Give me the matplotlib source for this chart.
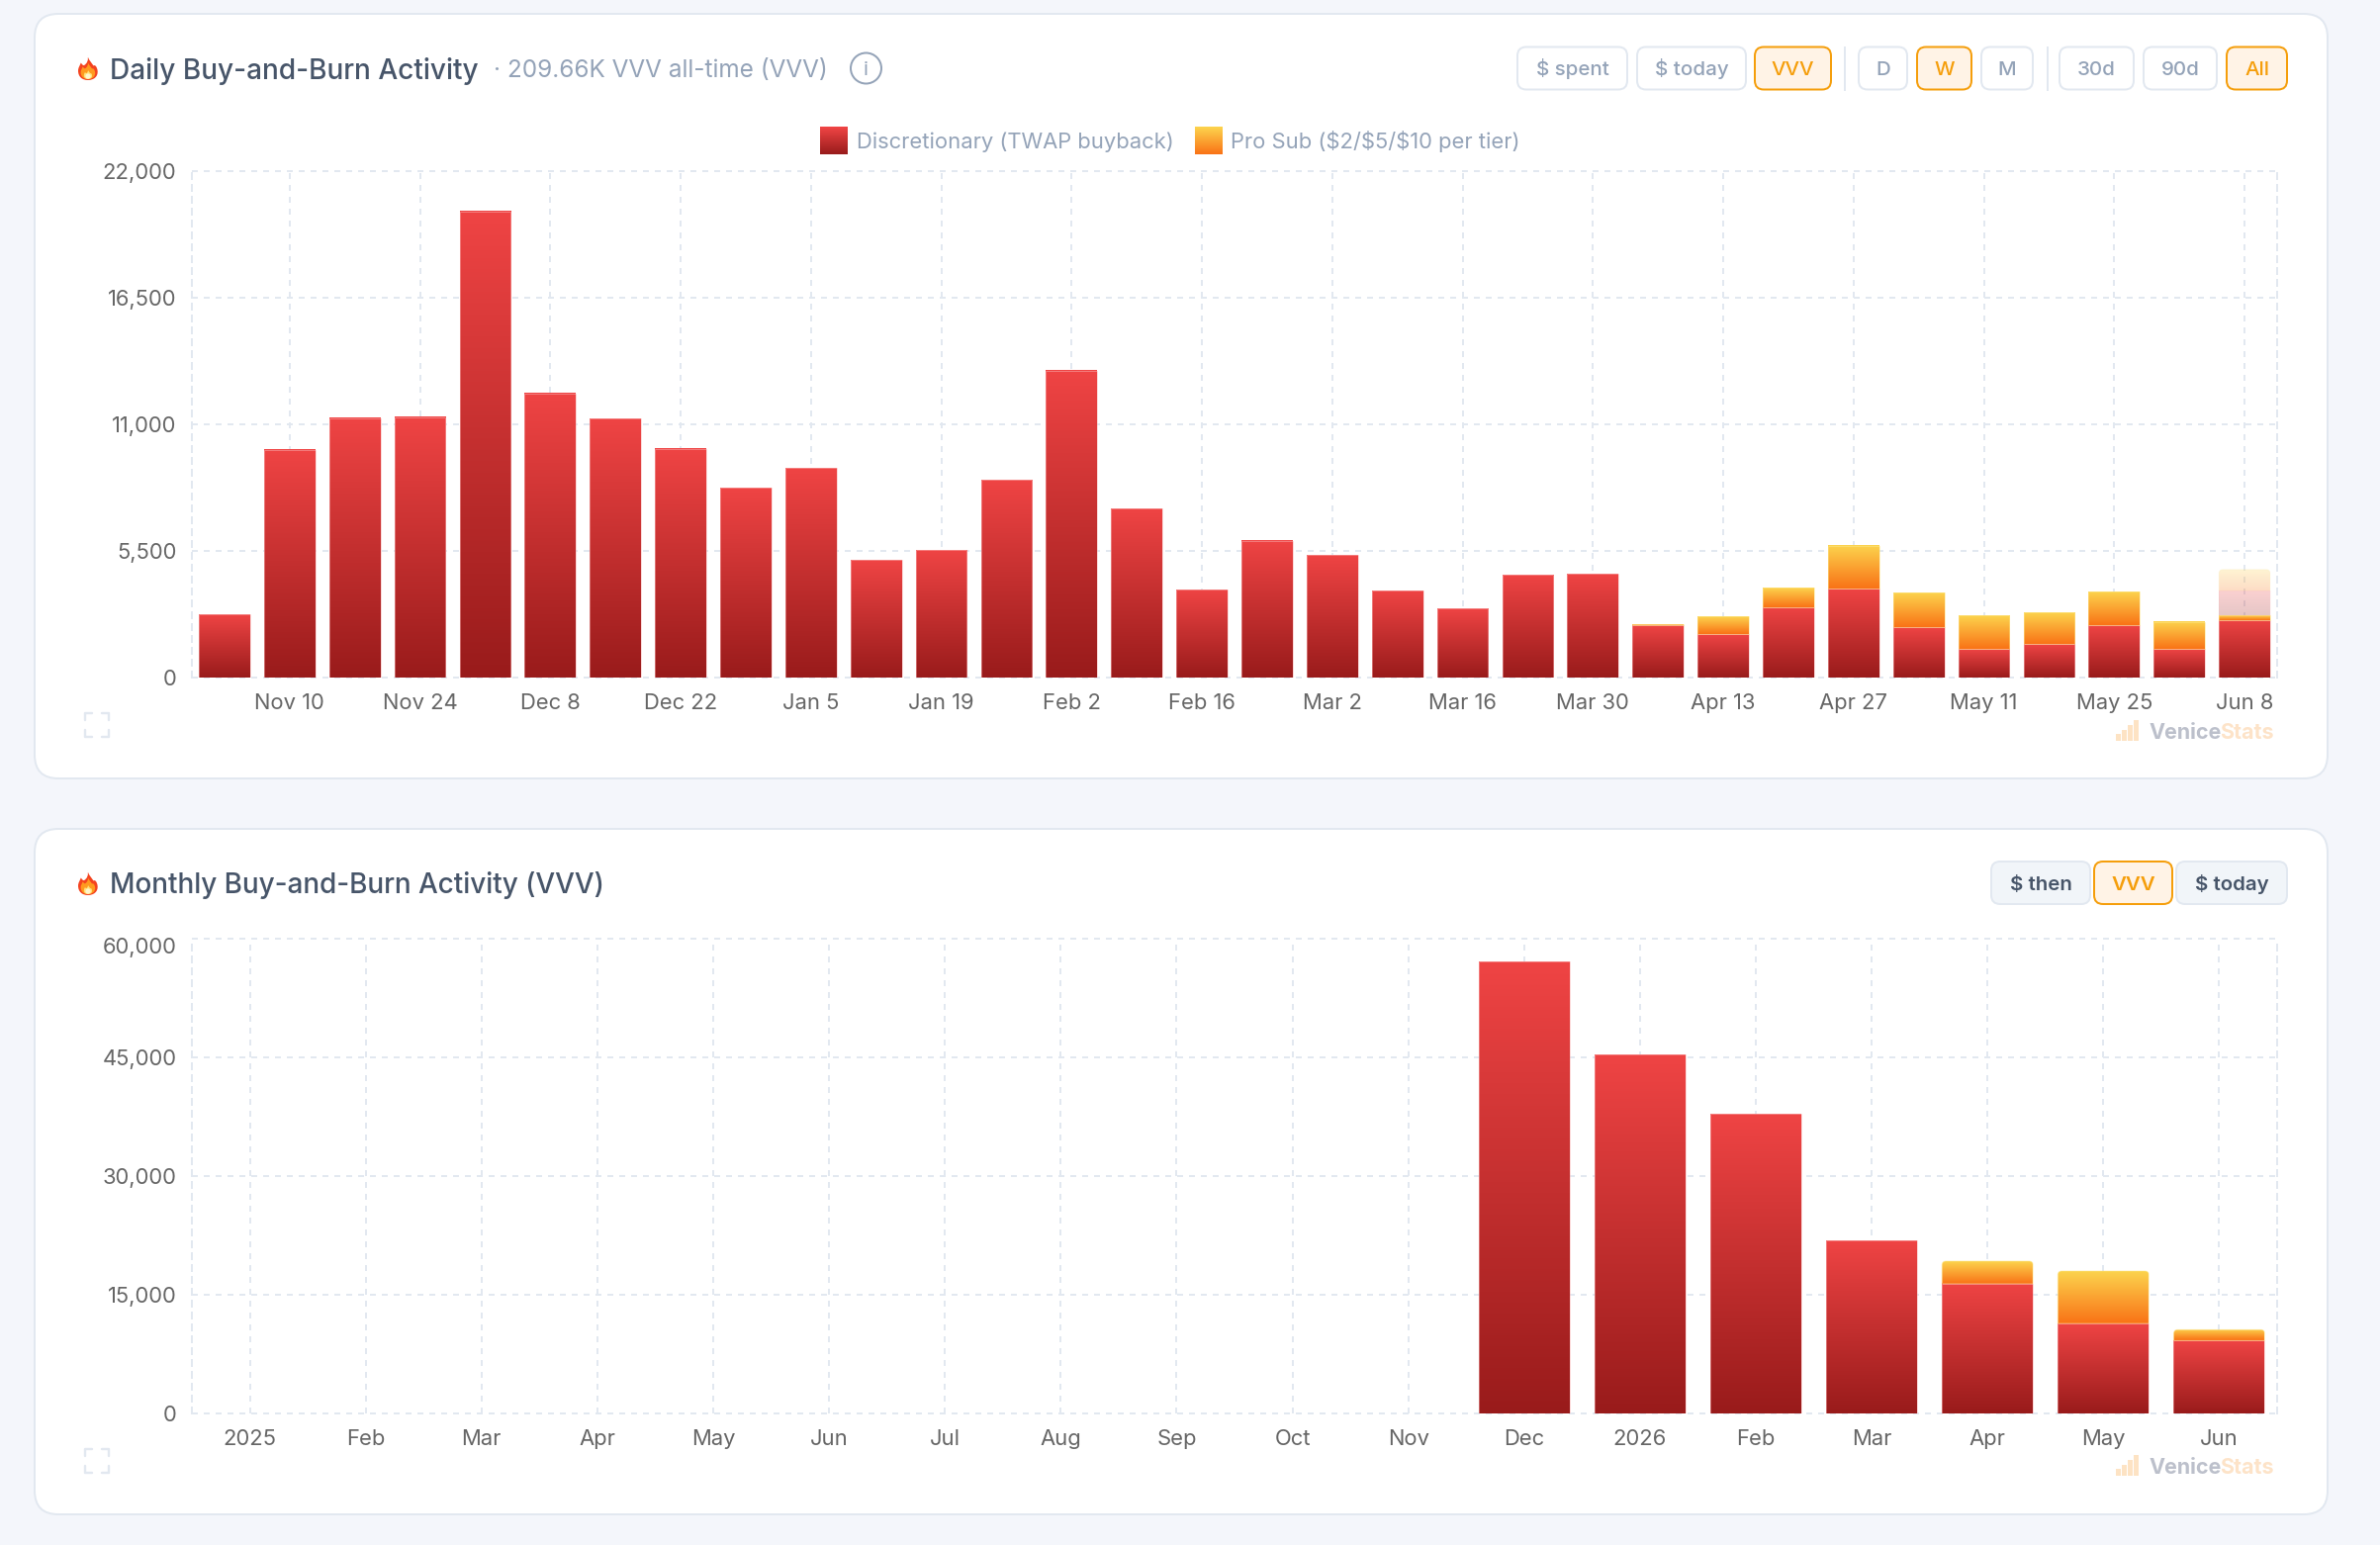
import numpy as np
import matplotlib
matplotlib.use("Agg")
import matplotlib.pyplot as plt
from matplotlib.colors import to_rgb
from matplotlib.patches import FancyBboxPatch, Rectangle, Circle, PathPatch
from matplotlib.path import Path
from matplotlib.legend_handler import HandlerBase
from matplotlib.transforms import ScaledTranslation

# ---- weekly series (VVV) ----
week_labels = ["Nov 3", "Nov 10", "Nov 17", "Nov 24", "Dec 1", "Dec 8", "Dec 15", "Dec 22",
               "Dec 29", "Jan 5", "Jan 12", "Jan 19", "Jan 26", "Feb 2", "Feb 9", "Feb 16",
               "Feb 23", "Mar 2", "Mar 9", "Mar 16", "Mar 23", "Mar 30", "Apr 6", "Apr 13",
               "Apr 20", "Apr 27", "May 4", "May 11", "May 18", "May 25", "Jun 1", "Jun 8"]
week_disc = [2750, 9890, 11265, 11305, 20240, 12350, 11250, 9945, 8230, 9090, 5110, 5525,
             8590, 13340, 7345, 3820, 5940, 5310, 3780, 3005, 4465, 4495, 2276, 1875,
             3062, 3864, 2175, 1230, 1445, 2261, 1230, 2504]
week_pro = [0, 0, 0, 0, 0, 0, 0, 0, 0, 0, 0, 0, 0, 0, 0, 0, 0, 0, 0, 0, 0, 0,
            42, 773, 858, 1860, 1503, 1460, 1375, 1459, 1188, 201]
# the running week also shows its projected remainder
week_proj_disc = [0] * 31 + [1073]
week_proj_pro = [0] * 31 + [916]
week_yticks = [0, 5500, 11000, 16500, 22000]

# ---- monthly series (VVV) ----
month_labels = ["2025", "Feb", "Mar", "Apr", "May", "Jun", "Jul", "Aug", "Sep", "Oct", "Nov",
                "Dec", "2026", "Feb", "Mar", "Apr", "May", "Jun"]
month_disc = [0, 0, 0, 0, 0, 0, 0, 0, 0, 0, 0, 57090, 45340, 37840, 21835, 16400, 11375, 9200]
month_pro = [0, 0, 0, 0, 0, 0, 0, 0, 0, 0, 0, 0, 0, 0, 0, 2850, 6625, 1380]
month_yticks = [0, 15000, 30000, 45000, 60000]

W, H = 2406, 1562
PX = 72 / 100  # points per pixel at dpi 100
FONT = "Inter"
RED = ("#ef4444", "#991b1b")
ORANGE = ("#fcd34d", "#f97316")
BORDER = "#e2e8f0"
MUTED = "#94a3b8"
SLATE = "#475569"
TICK = "#666666"
AMBER = "#f59e0b"

plt.rcParams["font.family"] = [FONT, "DejaVu Sans"]
fig = plt.figure(figsize=(W / 100, H / 100), dpi=100, facecolor="#f4f6fb")

# pixel-addressed layer for cards, buttons and headings
bg = fig.add_axes([0, 0, 1, 1], zorder=0)
bg.set_xlim(0, W)
bg.set_ylim(H, 0)
bg.axis("off")


def gradient(top, bottom, n=128):
    t = np.linspace(0, 1, n)[:, None]
    a, b = np.array(to_rgb(top)), np.array(to_rgb(bottom))
    return (a * (1 - t) + b * t)[:, None, :]


def rounded_top_path(l, r, b, t, rx, ry):
    return Path([(l, b), (l, t - ry), (l, t), (l + rx, t), (r - rx, t), (r, t), (r, t - ry),
                 (r, b), (l, b)],
                [Path.MOVETO, Path.LINETO, Path.CURVE3, Path.CURVE3, Path.LINETO, Path.CURVE3,
                 Path.CURVE3, Path.LINETO, Path.CLOSEPOLY])


def gradient_bars(ax, x, values, bottoms, colors, edge, width, alpha=1.0, round_top=False):
    """Stacked bar segment whose fill fades from top to bottom within each segment."""
    bars = ax.bar(x, values, bottom=bottoms, width=width, facecolor="none",
                  edgecolor="none", zorder=2)
    pos = ax.get_position()
    rx = 4 * (ax.get_xlim()[1] - ax.get_xlim()[0]) / (pos.width * W)
    ry = 4 * (ax.get_ylim()[1] - ax.get_ylim()[0]) / (pos.height * H)
    for rect, val in zip(bars, values):
        if val <= 0:
            continue
        l, b = rect.get_x(), rect.get_y()
        r, t = l + rect.get_width(), b + rect.get_height()
        im = ax.imshow(gradient(*colors), extent=(l, r, b, t), origin="upper", aspect="auto",
                       interpolation="bilinear", alpha=alpha, zorder=2)
        if round_top:
            patch = PathPatch(rounded_top_path(l, r, b, t, rx, ry), transform=ax.transData,
                              facecolor="none", edgecolor=edge, linewidth=1 * PX,
                              alpha=0.5 * alpha, zorder=2.2)
            ax.add_patch(patch)
            im.set_clip_path(patch)
        else:
            ax.add_patch(Rectangle((l, b), r - l, t - b, facecolor="none", edgecolor=edge,
                                   linewidth=1 * PX, alpha=0.5 * alpha, zorder=2.2))
    return bars


def chart_axes(top, bottom):
    ax = fig.add_axes([194 / W, 1 - bottom / H, (2302 - 194) / W, (bottom - top) / H],
                      facecolor="none", zorder=2)
    for side in ("top", "bottom"):
        ax.spines[side].set_visible(False)
    for side in ("left", "right"):
        ax.spines[side].set_color(BORDER)
        ax.spines[side].set_linewidth(2 * PX)
        ax.spines[side].set_linestyle((0, (3, 3)))
    ax.set_axisbelow(True)
    ax.grid(True, color=BORDER, linewidth=2 * PX, linestyle=(0, (3, 3)))
    for line in ax.get_xgridlines() + ax.get_ygridlines():
        line.set_clip_on(False)
    ax.tick_params(length=0, labelsize=22 * PX, labelcolor=TICK)
    ax.tick_params(axis="x", pad=11.5)
    ax.tick_params(axis="y", pad=11.3)
    return ax


def card(y0, y1):
    bg.add_patch(FancyBboxPatch((35, y0), 2353 - 35, y1 - y0,
                                boxstyle="round,pad=0,rounding_size=24",
                                facecolor="white", edgecolor=BORDER, linewidth=2 * PX))


def button(x0, x1, y0, y1, label, active=False, fill="white", color=MUTED, weight="medium"):
    bg.add_patch(FancyBboxPatch((x0, y0), x1 - x0, y1 - y0,
                                boxstyle="round,pad=0,rounding_size=9",
                                facecolor="#fff3e6" if active else fill,
                                edgecolor=AMBER if active else BORDER, linewidth=2 * PX))
    bg.text((x0 + x1) / 2, (y0 + y1) / 2 + 7.2, label, ha="center", va="baseline",
            color=AMBER if active else color, fontsize=20.5 * PX, fontweight=weight)


FLAME_OUTLINE = [(.47, 0),
                 (.52, .18), (.66, .28), (.78, .42),
                 (.84, .36), (.96, .46), (.98, .62),
                 (1.02, .86), (.78, 1), (.5, 1),
                 (.2, 1), (0, .86), (0, .62),
                 (0, .5), (.08, .42), (.14, .3),
                 (.18, .34), (.24, .42), (.3, .4),
                 (.44, .34), (.55, .18), (.47, 0)]


def flame(x0, y0):
    """Small flame glyph built from three nested outlines."""
    codes = [Path.MOVETO] + [Path.CURVE4] * (len(FLAME_OUTLINE) - 1)
    for sx, dy, sy, col in [(1.0, 0.0, 1.0, "#f4431f"),
                            (0.74, 0.24, 0.72, "#ff9a1f"),
                            (0.42, 0.56, 0.40, "#ffe27a")]:
        off = (1 - sx) / 2
        verts = [(x0 + 20 * (off + px * sx), y0 + 25 * (dy + py * sy)) for px, py in FLAME_OUTLINE]
        bg.add_patch(PathPatch(Path(verts, codes), facecolor=col, edgecolor="none"))
    bg.add_patch(Circle((x0 + 10, y0 + 21), 2.6, facecolor="#fff6d0", edgecolor="none"))


def expand_icon(cx, cy):
    s, a = 12, 7
    for sx in (-1, 1):
        for sy in (-1, 1):
            bg.plot([cx + sx * (s - a), cx + sx * s, cx + sx * s],
                    [cy + sy * s, cy + sy * s, cy + sy * (s - a)],
                    color=BORDER, linewidth=2.4 * PX, solid_capstyle="round",
                    solid_joinstyle="round")


def watermark(cy):
    for i, h in enumerate((7, 11, 16, 21)):
        bg.add_patch(Rectangle((2139 + i * 6, cy + 10 - h), 5, h, facecolor="#fde3c4",
                               edgecolor="none"))
    bg.text(2172, cy, "Venice", ha="left", va="center_baseline", color="#bcc0cb",
            fontsize=21.5 * PX, fontweight="bold")
    bg.text(2299, cy, "Stats", ha="right", va="center_baseline", color="#fde3c8",
            fontsize=21.5 * PX, fontweight="bold")


class GradientSwatch(HandlerBase):
    """Legend key drawn as a thin stack of slices running through a colour ramp."""

    def __init__(self, colors):
        super().__init__()
        self.colors = colors

    def create_artists(self, legend, orig_handle, xdescent, ydescent, width, height, fontsize,
                       trans):
        ramp = gradient(*self.colors, n=28)[:, 0, :]
        total = 28 * PX
        step = total / len(ramp)
        top = -ydescent + height / 2 + total / 2
        return [Rectangle((-xdescent, top - (i + 1) * step), width, step * 1.1,
                          facecolor=c, edgecolor="none", transform=trans)
                for i, c in enumerate(ramp)]


# ---- cards and headings ----
card(14, 787)
card(838, 1531)

flame(79, 56)
bg.text(111, 69, "Daily Buy-and-Burn Activity", ha="left", va="center_baseline", color=SLATE,
        fontsize=28 * PX, fontweight="medium")
bg.text(499, 69, "· 209.66K VVV all-time (VVV)", ha="left", va="center_baseline", color=MUTED,
        fontsize=24.3 * PX)
bg.add_patch(Circle((875.5, 69), 15.5, facecolor="none", edgecolor=MUTED, linewidth=2 * PX))
bg.text(875.5, 69, "i", ha="center", va="center_baseline", color=MUTED, fontsize=20 * PX)

flame(79, 880)
bg.text(111, 892, "Monthly Buy-and-Burn Activity (VVV)", ha="left", va="center_baseline",
        color=SLATE, fontsize=27.9 * PX, fontweight="medium")

for x0, x1, label, on in [(1534, 1645, "$ spent", False), (1655, 1765, "$ today", False),
                          (1774, 1851, "VVV", True), (1879, 1928, "D", False),
                          (1938, 1993, "W", True), (2003, 2055, "M", False),
                          (2082, 2157, "30d", False), (2167, 2241, "90d", False),
                          (2251, 2312, "All", True)]:
    button(x0, x1, 47.5, 90.5, label, active=on)
for sep in (1865, 2069.5):
    bg.plot([sep, sep], [47.5, 90.5], color=BORDER, linewidth=2 * PX)

for x0, x1, label, on in [(2013, 2113, "$ then", False), (2117, 2196, "VVV", True),
                          (2200, 2312, "$ today", False)]:
    button(x0, x1, 871, 914, label, active=on, fill="#f1f5f9", color=SLATE, weight="semibold")

expand_icon(98, 733)
expand_icon(98, 1477)
watermark(739)
watermark(1482)

# ---- weekly chart ----
ax1 = chart_axes(173, 685)
x1_pos = np.arange(len(week_labels))
ax1.set_xlim(-0.5, len(week_labels) - 0.5)
ax1.set_ylim(0, 22000)
ax1.set_yticks(week_yticks, [f"{v:,}" for v in week_yticks])
ax1.set_xticks(x1_pos[1::2], week_labels[1::2])

d, p, pd, pp = map(np.array, (week_disc, week_pro, week_proj_disc, week_proj_pro))
BAR_W = 0.785
RED_EDGE = "#f9b4b4"
ORANGE_EDGE = "#fde68a"
gradient_bars(ax1, x1_pos, d, np.zeros_like(d), RED, RED_EDGE, BAR_W)
gradient_bars(ax1, x1_pos, p, d, ORANGE, ORANGE_EDGE, BAR_W)
gradient_bars(ax1, x1_pos, pd, d + p, RED, RED_EDGE, BAR_W, alpha=0.25)
gradient_bars(ax1, x1_pos, pp, d + p + pd, ORANGE, ORANGE_EDGE, BAR_W, alpha=0.25, round_top=True)
ax1.set_xlim(-0.5, len(week_labels) - 0.5)
ax1.set_ylim(0, 22000)

handles = [Rectangle((0, 0), 1, 1, label="Discretionary (TWAP buyback)"),
           Rectangle((0, 0), 1, 1, label="Pro Sub ($2/$5/$10 per tier)")]
leg = fig.legend(handles=handles, ncol=2, frameon=False, loc="center",
                 bbox_to_anchor=(1183 / W, 1 - 143 / H), fontsize=22 * PX, labelcolor=MUTED,
                 handlelength=28 / 22, handleheight=1.0, handletextpad=8.5 / 22,
                 columnspacing=21 / 22, borderpad=0, borderaxespad=0,
                 handler_map={handles[0]: GradientSwatch(RED), handles[1]: GradientSwatch(ORANGE)})
leg.set_zorder(3)

# ---- monthly chart ----
ax2 = chart_axes(949, 1429)
x2_pos = np.arange(len(month_labels))
ax2.set_xlim(-0.5, len(month_labels) - 0.5)
ax2.set_ylim(0, 60000)
ax2.set_yticks(month_yticks, [f"{v:,}" for v in month_yticks])
ax2.set_xticks(x2_pos, month_labels)

md, mp = np.array(month_disc), np.array(month_pro)
gradient_bars(ax2, x2_pos, md, np.zeros_like(md), RED, RED_EDGE, BAR_W)
gradient_bars(ax2, x2_pos, mp, md, ORANGE, ORANGE_EDGE, BAR_W, round_top=True)
ax2.set_xlim(-0.5, len(month_labels) - 0.5)
ax2.set_ylim(0, 60000)

# the uppermost label sits just inside the plot area
top_label = ax2.get_yticklabels()[-1]
top_label.set_transform(top_label.get_transform() + ScaledTranslation(0, -6.5 * PX / 72, fig.dpi_scale_trans))

fig.savefig("out.png", dpi=100, facecolor=fig.get_facecolor())
